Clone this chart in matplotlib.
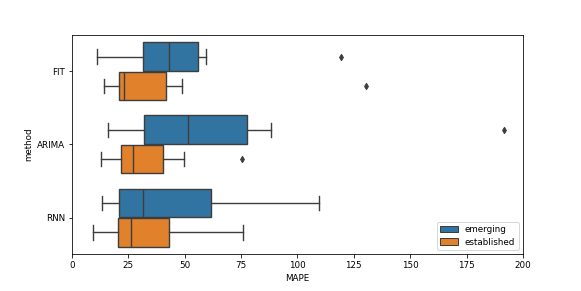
import numpy as np
import matplotlib
matplotlib.use("Agg")
import matplotlib.pyplot as plt
from matplotlib.patches import Patch

plt.rcParams["font.size"] = 8.7

methods = ["FIT", "ARIMA", "RNN"]
groups = ["emerging", "established"]
colors = ["#3274a1", "#e1812c"]
gray = "#3d3d3d"

# box stats: [whislo, q1, med, q3, whishi]
emerging = [
    [10.9, 31.3, 43.2, 55.7, 59.4],
    [16.1, 31.8, 51.6, 77.5, 88.2],
    [13.2, 21.0, 31.6, 61.5, 109.7],
]
established = [
    [14.2, 20.7, 23.1, 41.5, 48.9],
    [12.9, 21.7, 26.9, 40.5, 49.8],
    [9.5, 20.5, 26.2, 43.0, 75.7],
]
emerging_fliers = [[119.1], [191.6], []]
established_fliers = [[130.2], [75.4], []]

fig, ax = plt.subplots(figsize=(581 / 72, 291 / 72), dpi=72)
fig.subplots_adjust(left=0.124, right=0.9, top=0.881, bottom=0.126)

width = 0.8 / len(groups)
for g, (stats_rows, fliers, color) in enumerate(
        zip([emerging, established], [emerging_fliers, established_fliers], colors)):
    stats = []
    for row, fl in zip(stats_rows, fliers):
        lo, q1, med, q3, hi = row
        stats.append(dict(whislo=lo, q1=q1, med=med, q3=q3, whishi=hi, fliers=fl))
    pos = np.arange(len(methods)) - 0.4 + width * (g + 0.5)
    ax.bxp(stats, positions=pos, widths=width * 0.98, vert=False, patch_artist=True,
           boxprops=dict(facecolor=color, edgecolor=gray, linewidth=1.4),
           medianprops=dict(color=gray, linewidth=1.4),
           whiskerprops=dict(color=gray, linewidth=1.4),
           capprops=dict(color=gray, linewidth=1.4),
           flierprops=dict(marker="d", markerfacecolor=gray, markeredgecolor=gray,
                           markersize=4.5, linestyle="none"),
           manage_ticks=False)

ax.set_yticks(np.arange(len(methods)))
ax.set_yticklabels(methods)
ax.set_ylim(len(methods) - 0.5, -0.5)
ax.set_xlim(0, 200)
ax.set_xticks(np.arange(0, 201, 25))
ax.set_xlabel("MAPE")
ax.set_ylabel("method")

handles = [Patch(facecolor=c, edgecolor=gray, label=l) for c, l in zip(colors, groups)]
ax.legend(handles=handles, loc="lower right", labelspacing=0.35)

fig.savefig("out.png", dpi=72)
